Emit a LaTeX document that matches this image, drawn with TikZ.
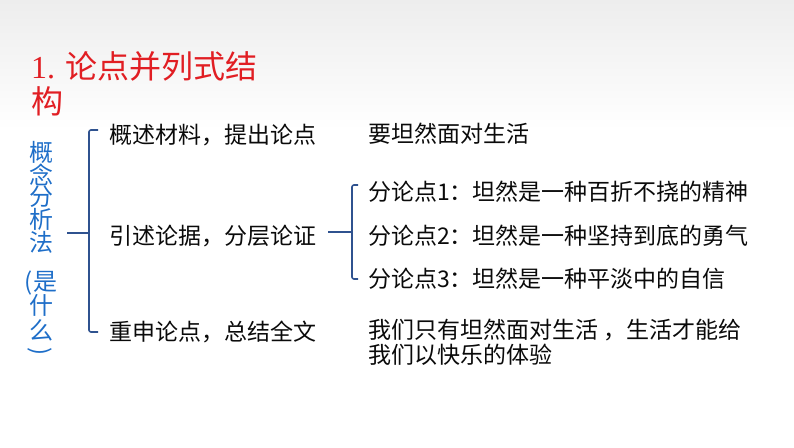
\documentclass[tikz,border=0pt]{standalone}
\usepackage{fontspec}
\newfontfamily\cjk{Noto Sans CJK SC}
\newfontfamily\titlenum{Liberation Serif}
\definecolor{titlered}{RGB}{225,30,35}
\definecolor{conceptblue}{RGB}{30,110,200}
\definecolor{bracketblue}{RGB}{47,82,143}
\definecolor{bodyblack}{RGB}{10,10,10}
\definecolor{topgray}{RGB}{237,237,237}
\tikzset{
	item/.style={anchor=west,inner sep=0pt,align=left,text=bodyblack,
		font=\cjk\fontsize{23}{25}\selectfont},
	vchar/.style={inner sep=0pt,text=conceptblue,font=\cjk\fontsize{24}{24}\selectfont},
	bline/.style={draw=bracketblue,line width=1.6pt,rounded corners=2pt},
}
\begin{document}
\begin{tikzpicture}[x=1pt,y=-1pt]
			\useasboundingbox (0,0) rectangle (794,447);
			\shade[top color=topgray,bottom color=white] (0,0) rectangle (794,130);
			\node[anchor=west,inner sep=0pt,align=left,text=titlered,
			font=\cjk\fontsize{32}{35}\selectfont] (title) at (31,84)
			{{\titlenum 1. }论点并列式结\\构};
			\foreach \y/\ch [count=\i] in {152/概,174.5/念,197/分,
				219.5/析,242/法,283/(是,305/什,330/么} \path
			(41,\y) node[vchar](v\i){\ch};
			\node[vchar,rotate=-90] (v9) at (40,352) {)};
			\path (109,135) node[item](r1){概述材料，提出论点}
			(109,236) node[item](r2){引述论据，分层论证}
			(109,332) node[item](r3){重申论点，总结全文}
			(368,134) node[item](m1){要坦然面对生活}
			(368,342) node[item](m3){我们只有坦然面对生活 ，生活才能给\\我们以快乐的体验};
			\foreach \y/\n/\texn in {192/1/坦然是一种百折不挠的精神,
				236/2/坦然是一种坚持到底的勇气,279/3/坦然是一种平淡中的自信}
			\path (368,\y) node[item](s\n){分论点\n：\texn};
			\draw[bline] ([shift={(-11,-5)}]r1.west) -| ([xshift=-20pt]r3.west)
			-- ([xshift=-11pt]r3.west);
			\draw[bline] ([shift={(-20,-3)}]r2.west) -- ++(-22,0);
			\draw[bline] ([shift={(-10,-7)}]s1.west) -| ([xshift=-16pt]s3.west)
			-- ([xshift=-10pt]s3.west);
			\draw[bline] ([shift={(-16,-4)}]s2.west) -- ++(-24,0);
		\end{tikzpicture}
\end{document}
